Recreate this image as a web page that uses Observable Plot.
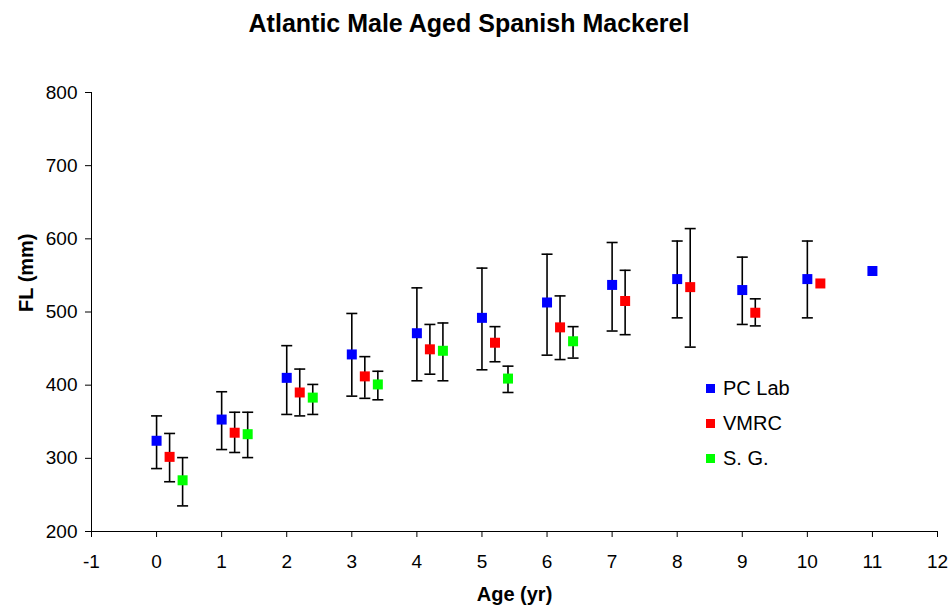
<!DOCTYPE html>
<html>
<head>
<meta charset="utf-8">
<script src="https://cdn.jsdelivr.net/npm/d3@7"></script>
<script src="https://cdn.jsdelivr.net/npm/@observablehq/plot@0.6"></script>
<style>
  html, body { margin: 0; padding: 0; background: #fff; }
  body { font-family: "Liberation Sans", Arial, sans-serif; }
  #wrap { position: relative; width: 950px; height: 613px; overflow: hidden; }
  #title { position: absolute; left: 0; top: 8px; width: 938px; text-align: center;
           font-size: 25px; font-weight: bold; line-height: 30px; color: #000; }
  .leg { position: absolute; left: 706px; height: 20px; display: flex; align-items: center;
         font-size: 20px; color: #000; }
  .leg span.sw { display: inline-block; width: 9px; height: 9px; margin-right: 8px; }
  #chart { position: absolute; left: 0; top: 0; }
</style>
</head>
<body>
<div id="wrap">
  <div id="chart"></div>
  <div id="title">Atlantic Male Aged Spanish Mackerel</div>
  <div id="legend"></div>
</div>
<script>
// ---- data ----
const seriesNames = ["PC Lab", "VMRC", "S. G."];
const seriesColors = ["#0000ff", "#ff0000", "#00ff00"];

const pcAges  = [0, 1, 2, 3, 4, 5, 6, 7, 8, 9, 10, 11];
const pcMean  = [324, 353, 410, 442, 471, 492, 513, 537, 545, 530, 545, 556];
const pcUpper = [358, 391, 454, 498, 533, 560, 579, 595, 597, 575, 597, null];
const pcLower = [286, 312, 360, 385, 406, 421, 441, 474, 492, 483, 492, null];

const vmAges  = [0, 1, 2, 3, 4, 5, 6, 7, 8, 9, 10];
const vmMean  = [302, 335, 390, 412, 449, 458, 479, 515, 534, 499, 539];
const vmUpper = [334, 363, 422, 439, 483, 480, 522, 557, 614, 518, null];
const vmLower = [268, 308, 358, 382, 415, 432, 435, 469, 452, 481, null];

const sgAges  = [0, 1, 2, 3, 4, 5, 6];
const sgMean  = [270, 333, 383, 401, 447, 409, 460];
const sgUpper = [301, 363, 401, 419, 485, 426, 480];
const sgLower = [235, 301, 360, 380, 406, 390, 437];

const xTicks = [-1, 0, 1, 2, 3, 4, 5, 6, 7, 8, 9, 10, 11, 12];
const yTicks = [200, 300, 400, 500, 600, 700, 800];

// ---- build table ----
const dodge = {"PC Lab": 0, "VMRC": 0.2, "S. G.": 0.4};
const sets = [
  ["PC Lab", pcAges, pcMean, pcUpper, pcLower],
  ["VMRC", vmAges, vmMean, vmUpper, vmLower],
  ["S. G.", sgAges, sgMean, sgUpper, sgLower]
];
const rows = [];
for (const [name, ages, mean, up, lo] of sets) {
  ages.forEach((a, i) => rows.push({series: name, age: a, x: a + dodge[name], y: mean[i], hi: up[i], lo: lo[i]}));
}
const bars = rows.filter(d => d.hi != null);
const caps = bars.flatMap(d => [{x: d.x, y: d.hi}, {x: d.x, y: d.lo}]);

const capSymbol = { draw(ctx, size) { const w = Math.sqrt(size / Math.PI); ctx.moveTo(-w, 0); ctx.lineTo(w, 0); } };
const squareSymbol = { draw(ctx, size) { const s = Math.sqrt(size / Math.PI); ctx.rect(-s, -s, 2 * s, 2 * s); } };

const xDomain = [xTicks[0], xTicks[xTicks.length - 1]];
const yDomain = [yTicks[0], yTicks[yTicks.length - 1]];

const chart = Plot.plot({
  width: 950,
  height: 613,
  marginLeft: 91,
  marginRight: 13,
  marginTop: 92,
  marginBottom: 82,
  style: { fontFamily: '"Liberation Sans", Arial, sans-serif', fontSize: "19px", color: "#000", background: "#fff", overflow: "visible" },
  x: { domain: xDomain, ticks: xTicks },
  y: { domain: yDomain, ticks: yTicks },
  color: { domain: seriesNames, range: seriesColors },
  marks: [
    Plot.axisY({ ticks: yTicks, tickSize: 6, tickPadding: 8, fontSize: 19, label: null, tickFormat: d => String(d) }),
    Plot.axisX({ ticks: xTicks, tickSize: 6, tickPadding: 17, fontSize: 19, label: null, tickFormat: d => String(d) }),
    Plot.ruleX([xDomain[0]], { stroke: "#000", strokeWidth: 1 }),
    Plot.ruleY([yDomain[0]], { stroke: "#000", strokeWidth: 1 }),
    Plot.ruleX(bars, { x: "x", y1: "lo", y2: "hi", stroke: "#000", strokeWidth: 1.6 }),
    Plot.dot(caps, { x: "x", y: "y", symbol: capSymbol, r: 5.5, stroke: "#000", fill: "none", strokeWidth: 1.6 }),
    Plot.dot(rows, { x: "x", y: "y", symbol: squareSymbol, r: 5, fill: "series", stroke: "none" }),
    Plot.text(["FL (mm)"], { frameAnchor: "left", dx: -65, rotate: -90, fontSize: 20, fontWeight: "bold", fill: "#000" }),
    Plot.text(["Age (yr)"], { frameAnchor: "bottom", dy: 69, fontSize: 20, fontWeight: "bold", fill: "#000" })
  ]
});
document.getElementById("chart").appendChild(chart);

// ---- legend ----
const legendTops = [378.5, 413, 448];
const legend = document.getElementById("legend");
seriesNames.forEach((n, i) => {
  const el = document.createElement("div");
  el.className = "leg";
  el.style.top = legendTops[i] + "px";
  el.innerHTML = `<span class="sw" style="background:${seriesColors[i]}"></span>${n}`;
  legend.appendChild(el);
});
</script>
</body>
</html>
